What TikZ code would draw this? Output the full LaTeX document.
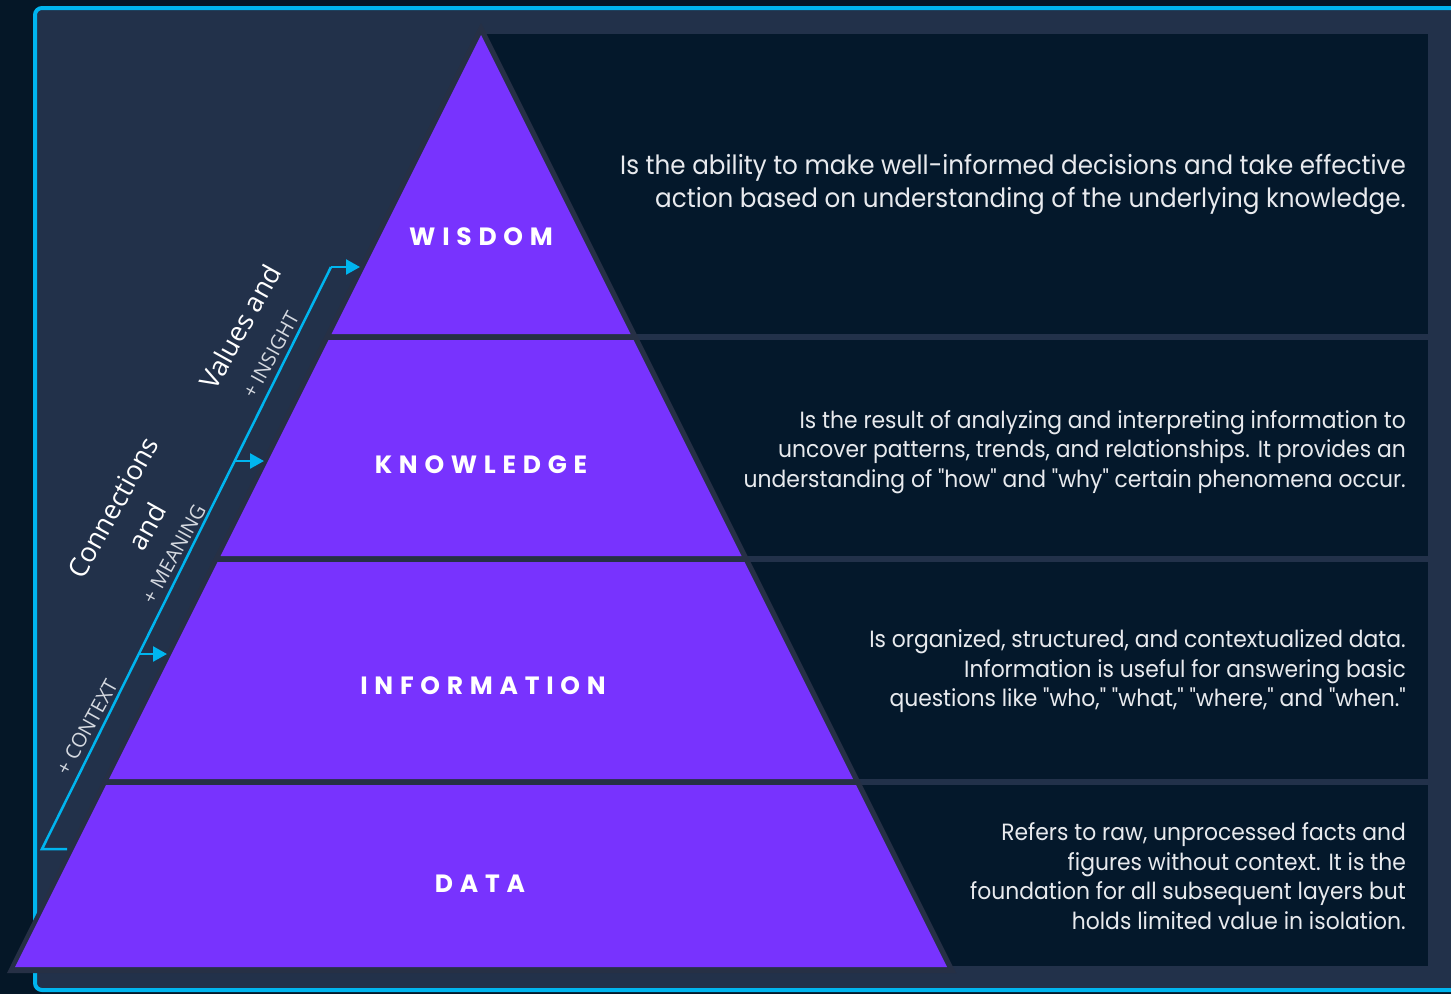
\documentclass[tikz,border=0pt]{standalone}
\usepackage{fontspec}
\setmainfont{Poppins}
\newfontfamily\descfont{Poppins}[FakeStretch=0.93]
\newfontfamily\layerfont{Poppins}[LetterSpace=27]
\newfontfamily\sidefont{Open Sans}
\usetikzlibrary{arrows.meta}
\definecolor{outerbg}{HTML}{051727}
\definecolor{panelbg}{HTML}{22314A}
\definecolor{darkbox}{HTML}{04182B}
\definecolor{shadowgray}{HTML}{263045}
\definecolor{violet}{HTML}{7833FE}
\definecolor{cyanline}{HTML}{00B5EF}
\definecolor{desctext}{HTML}{E8EAEE}
\definecolor{sidegray}{HTML}{D5D9E0}
\tikzset{
  layer/.style={fill=violet},
  rowbox/.style={fill=darkbox},
  layerlabel/.style={text=white, font=\layerfont\bfseries\fontsize{25}{30}\selectfont, inner sep=0pt},
  desc/.style={text=desctext, align=right, anchor=east, inner sep=0pt},
  sidebig/.style={text=white, font=\sidefont\fontsize{27}{39}\selectfont, align=center, inner sep=0pt, rotate=61},
  sidesmall/.style={text=sidegray, font=\sidefont\fontsize{20}{24}\selectfont, inner sep=0pt, rotate=61},
  flow/.style={draw=cyanline, line width=2.5pt},
  flowarrow/.style={draw=cyanline, line width=2.5pt, -{Triangle[length=14pt,width=15pt]}}
}
\begin{document}
\begin{tikzpicture}[x=1pt,y=-1pt]
\useasboundingbox (0,0) rectangle (1451,994);
\clip (0,0) rectangle (1451,994);
% backgrounds
\fill[outerbg] (0,0) rectangle (1451,994);
\draw[cyanline, line width=4pt, fill=panelbg, rounded corners=7pt] (35,8) rectangle (1480,990);
% description boxes
\fill[rowbox] (478,34) rectangle (1428,334);
\fill[rowbox] (600,340) rectangle (1428,556);
\fill[rowbox] (700,562) rectangle (1428,779);
\fill[rowbox] (800,785) rectangle (1428,966);
% pyramid shadow
\fill[shadowgray] (481,23) -- (956,973) -- (7,973) -- cycle;
% pyramid layers
\fill[layer] (481,35) -- (630.5,334) -- (331.5,334) -- cycle;
\fill[layer] (328.5,340) -- (633.5,340) -- (741.5,556) -- (220.5,556) -- cycle;
\fill[layer] (217.5,562) -- (744.5,562) -- (853,779) -- (109,779) -- cycle;
\fill[layer] (106,785) -- (856,785) -- (947,967) -- (15,967) -- cycle;
% layer labels
\node[layerlabel] (wisdom) at (481,237) {WISDOM};
\node[layerlabel] (knowledge) at (481,465) {KNOWLEDGE};
\node[layerlabel] (information) at (483,686) {INFORMATION};
\node[layerlabel] (data) at (480,884) {DATA};
% descriptions
\node[desc, font=\descfont\fontsize{26.5}{33}\selectfont] (dwisdom) at (1406,184)
  {Is the ability to make well-informed decisions and take effective\\action based on understanding of the underlying knowledge.};
\node[desc, font=\descfont\fontsize{23.5}{29.5}\selectfont] (dknowledge) at (1406,452)
  {Is the result of analyzing and interpreting information to\\uncover patterns, trends, and relationships. It provides an\\understanding of "how" and "why" certain phenomena occur.};
\node[desc, font=\descfont\fontsize{23.5}{29.5}\selectfont] (dinformation) at (1406,671.5)
  {Is organized, structured, and contextualized data.\\Information is useful for answering basic\\questions like "who," "what," "where," and "when."};
\node[desc, font=\descfont\fontsize{23.5}{29.5}\selectfont] (ddata) at (1406,876)
  {Refers to raw, unprocessed facts and\\figures without context. It is the\\foundation for all subsequent layers but\\holds limited value in isolation.};
% flow line
\coordinate (foot) at (67,849);
\coordinate (base) at (42,849);
\coordinate (top) at (331,267);
\coordinate (tipW) at (360,267);
\coordinate (branchK) at (235,461);
\coordinate (tipK) at (264,461);
\coordinate (branchI) at (139,654);
\coordinate (tipI) at (167,654);
\draw[flow] (foot) -- (base) -- (top);
\draw[flowarrow] (top) -- (tipW);
\draw[flowarrow] (branchK) -- (tipK);
\draw[flowarrow] (branchI) -- (tipI);
% side labels
\node[sidebig] (values) at (240,327) {Values and};
\node[sidesmall] (insight) at (271,355) {+ INSIGHT};
\node[sidebig] (connections) at (130,517) {Connections\\and};
\node[sidesmall] (meaning) at (174,554) {+ MEANING};
\node[sidesmall] (context) at (87,727) {+ CONTEXT};
\end{tikzpicture}
\end{document}
